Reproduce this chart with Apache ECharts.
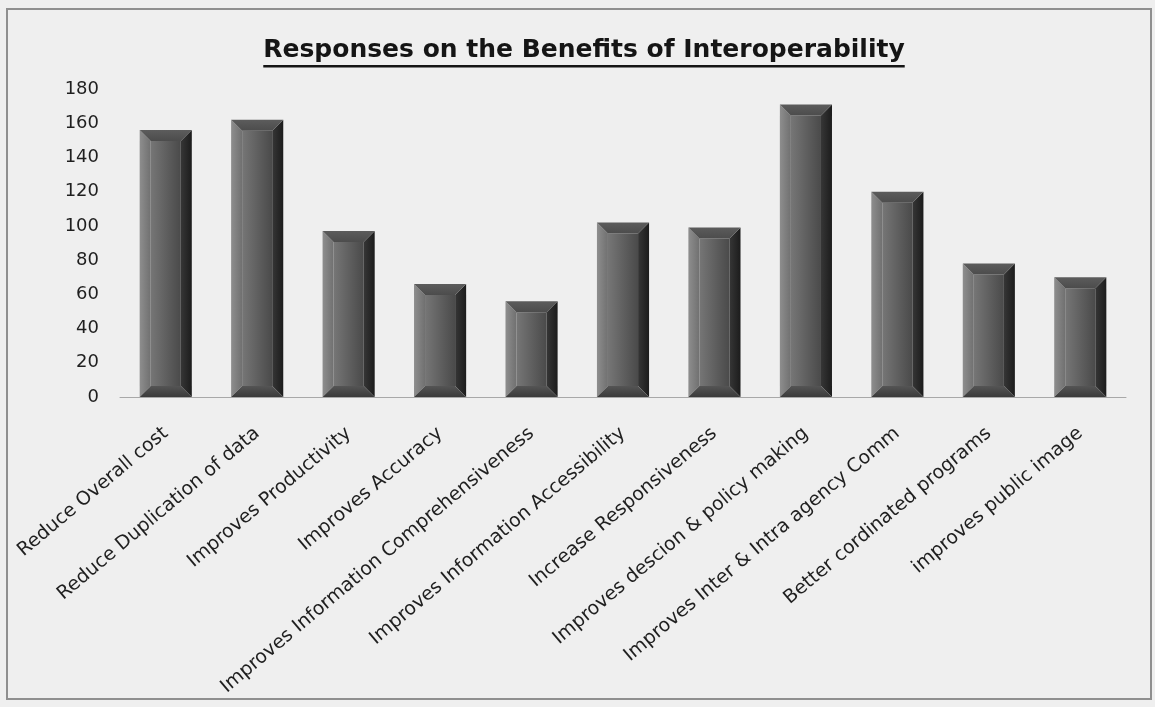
<!DOCTYPE html>
<html>
<head>
<meta charset="utf-8">
<title>Responses on the Benefits of Interoperability</title>
<script src="https://cdn.jsdelivr.net/npm/echarts@6/dist/echarts.min.js"></script>
<style>
  html, body { margin: 0; padding: 0; background: #efefef; }
  #chart { width: 1155px; height: 707px; }
</style>
</head>
<body>
<div id="chart"></div>
<script>
// Survey responses per benefit category
const categories = [
  'Reduce Overall cost',
  'Reduce Duplication of data',
  'Improves Productivity',
  'Improves Accuracy',
  'Improves Information Comprehensiveness',
  'Improves Information Accessibility',
  'Increase Responsiveness',
  'Improves descion & policy making',
  'Improves Inter & Intra agency Comm',
  'Better cordinated programs',
  'improves public image'
];
const responses = [156, 162, 97, 66, 56, 102, 99, 171, 120, 78, 70];
const yTicks = { min: 0, max: 180, interval: 20 };
const chartTitle = 'Responses on the Benefits of Interoperability';

const FONT = '"DejaVu Sans", "Open Sans", sans-serif';
const TEXT = '#1f1f1f';
const TITLE_SIZE = 25;

// width of the title, used for its underline
function textWidth(str, font) {
  const c = document.createElement('canvas').getContext('2d');
  c.font = font;
  return c.measureText(str).width;
}
const titleW = textWidth(chartTitle, 'bold ' + TITLE_SIZE + 'px ' + FONT);
const titleX = 584;

function grad(x0, y0, x1, y1, c0, c1) {
  return new echarts.graphic.LinearGradient(x0, y0, x1, y1, [
    { offset: 0, color: c0 }, { offset: 1, color: c1 }
  ]);
}

// bevelled bar: face plus four sloped edges
function renderBevelBar(params, api) {
  const idx = api.value(0);
  const val = api.value(1);
  const top = api.coord([idx, val]);
  const base = api.coord([idx, 0]);
  const bw = api.size([1, 0])[0] * 0.57;
  const l = top[0] - bw / 2, r = top[0] + bw / 2;
  const t = top[1], bt = base[1];
  const b = Math.min(11, (bt - t) / 3);
  const poly = (pts, fill) => ({
    type: 'polygon', shape: { points: pts }, style: { fill: fill, stroke: null }
  });
  return {
    type: 'group',
    children: [
      { type: 'rect', shape: { x: l + b, y: t + b, width: bw - 2 * b, height: bt - t - 2 * b },
        style: { fill: grad(0, 0, 1, 0, '#767676', '#4a4a4a') } },
      poly([[l, t], [l + b, t + b], [l + b, bt - b], [l, bt]], grad(0, 0, 1, 0, '#8e8e8e', '#707070')),
      poly([[r, t], [r - b, t + b], [r - b, bt - b], [r, bt]], grad(0, 0, 1, 0, '#363636', '#1c1c1c')),
      poly([[l, t], [r, t], [r - b, t + b], [l + b, t + b]], grad(0, 0, 0, 1, '#5c5c5c', '#4c4c4c')),
      poly([[l, bt], [l + b, bt - b], [r - b, bt - b], [r, bt]], grad(0, 0, 0, 1, '#555555', '#3a3a3a'))
    ]
  };
}

const chart = echarts.init(document.getElementById('chart'), null, { renderer: 'canvas' });
chart.setOption({
  backgroundColor: '#efefef',
  animation: false,
  grid: { left: 120, right: 29, top: 89, bottom: 310, containLabel: false },
  xAxis: {
    type: 'category',
    data: categories,
    axisLine: { show: true, lineStyle: { color: '#a8a8a8', width: 1 } },
    axisTick: { show: false },
    axisLabel: {
      interval: 0, rotate: 40, margin: 34,
      fontFamily: FONT, fontSize: 19, color: TEXT
    }
  },
  yAxis: {
    type: 'value',
    min: yTicks.min, max: yTicks.max, interval: yTicks.interval,
    axisLine: { show: false },
    axisTick: { show: false },
    splitLine: { show: false },
    axisLabel: { margin: 21, fontFamily: FONT, fontSize: 18, color: TEXT }
  },
  series: [{
    type: 'custom',
    renderItem: renderBevelBar,
    encode: { x: 0, y: 1 },
    data: responses.map((v, i) => [i, v])
  }],
  graphic: [
    { type: 'rect', z: -1, silent: true,
      shape: { x: 7, y: 9, width: 1144, height: 690 },
      style: { fill: null, stroke: '#8f8f8f', lineWidth: 2 } },
    { type: 'text', x: titleX, y: 50,
      style: { text: chartTitle, x: 0, y: 0, align: 'center', verticalAlign: 'middle',
               font: 'bold ' + TITLE_SIZE + 'px ' + FONT, fill: '#151515' } },
    { type: 'rect', shape: { x: titleX - titleW / 2, y: 65, width: titleW, height: 2.5 },
      style: { fill: '#151515' } }
  ]
});
</script>
</body>
</html>
